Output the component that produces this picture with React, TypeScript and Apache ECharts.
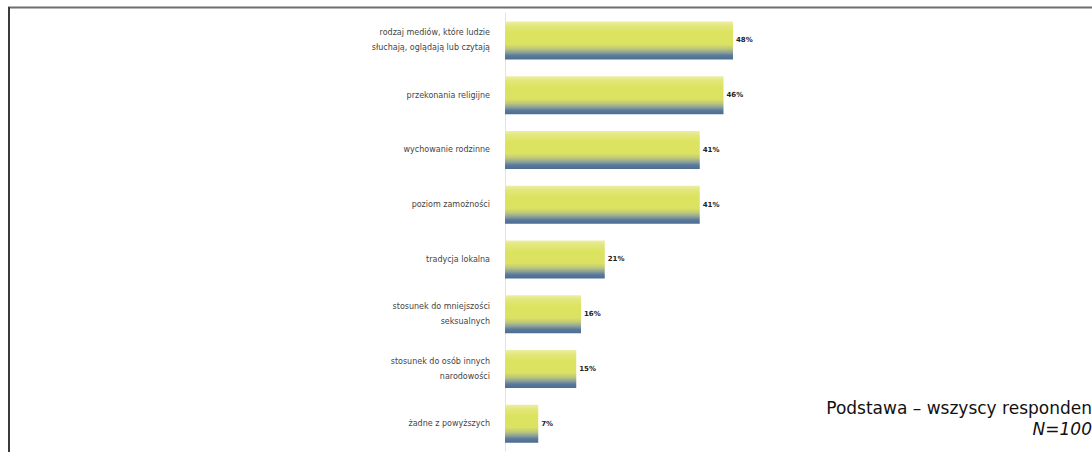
import React, { useEffect, useRef } from "react";
import * as echarts from "echarts";

const categories = [
  "rodzaj mediów, które ludzie\nsłuchają, oglądają lub czytają",
  "przekonania religijne",
  "wychowanie rodzinne",
  "poziom zamożności",
  "tradycja lokalna",
  "stosunek do mniejszości\nseksualnych",
  "stosunek do osób innych\nnarodowości",
  "żadne z powyższych",
];
const values = [48, 46, 41, 41, 21, 16, 15, 7];
const baseText = "Podstawa – wszyscy responden";
const nText = "N=100";

export default function App() {
  const ref = useRef<HTMLDivElement>(null);
  useEffect(() => {
    if (!ref.current) return;
    const chart = echarts.init(ref.current, null, { renderer: "svg" });
    const grad = new echarts.graphic.LinearGradient(0, 0, 0, 1, [
      { offset: 0, color: "#eceea6" },
      { offset: 0.12, color: "#e2e77a" },
      { offset: 0.3, color: "#dce35e" },
      { offset: 0.6, color: "#dbe262" },
      { offset: 0.72, color: "#bcc77a" },
      { offset: 0.82, color: "#8aa09a" },
      { offset: 0.9, color: "#5b7a9a" },
      { offset: 1, color: "#4b6d92" },
    ]);
    chart.setOption({
      animation: false,
      backgroundColor: "#ffffff",
      grid: { left: 505, top: 13, width: 285, height: 438, containLabel: false },
      xAxis: { type: "value", min: 0, max: 60, show: false },
      yAxis: {
        type: "category",
        data: categories,
        inverse: true,
        axisTick: { show: false },
        axisLine: { show: true, lineStyle: { color: "#e2e2e2", width: 1 } },
        axisLabel: {
          fontSize: 8,
          color: "#444444",
          lineHeight: 15,
          margin: 15,
          fontFamily: "DejaVu Sans",
        },
        splitLine: { show: false },
      },
      series: [
        {
          type: "bar",
          data: values,
          barWidth: 38,
          itemStyle: { color: grad },
          label: {
            show: true,
            position: "right",
            distance: 3,
            formatter: "{c}%",
            fontSize: 7,
            fontWeight: "bold",
            color: "#222222",
            fontFamily: "DejaVu Sans",
          },
        },
      ],
      graphic: [
        {
          type: "line",
          shape: { x1: 8, y1: 7.5, x2: 1092, y2: 7.5 },
          style: { stroke: "#6f6f6f", lineWidth: 2 },
        },
        {
          type: "line",
          shape: { x1: 9, y1: 7, x2: 9, y2: 452 },
          style: { stroke: "#3a3a3a", lineWidth: 2 },
        },
        {
          type: "text",
          right: 0,
          top: 399,
          style: {
            text: baseText,
            fontSize: 17,
            fill: "#111111",
            fontFamily: "DejaVu Sans",
          },
        },
        {
          type: "text",
          right: 0,
          top: 420,
          style: {
            text: nText,
            fontSize: 17,
            fontStyle: "italic",
            fill: "#111111",
            fontFamily: "DejaVu Sans",
          },
        },
      ],
    });
    return () => chart.dispose();
  }, []);
  return (
    <div
      ref={ref}
      style={{ position: "absolute", left: 0, top: 0, width: 1092, height: 452 }}
    />
  );
}
